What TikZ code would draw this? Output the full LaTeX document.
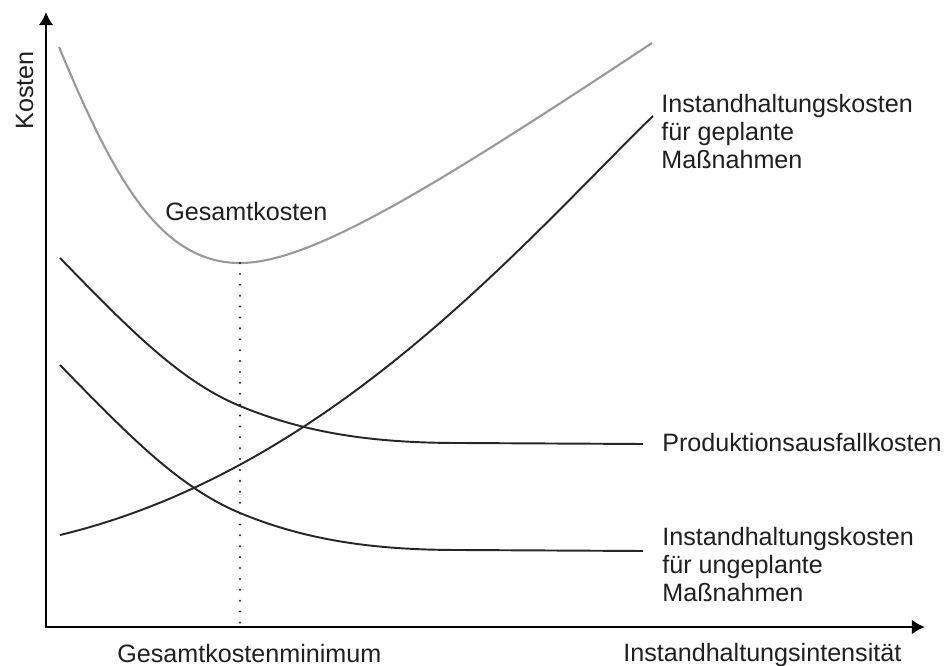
\documentclass[tikz,border=0pt]{standalone}
\usepackage{fontspec}
\setmainfont{Liberation Sans}
\usetikzlibrary{arrows.meta}
\begin{document}
\begin{tikzpicture}[x=0.02cm, y=-0.02cm,
		achse/.style={line width=1.5pt, {Latex[length=7.5pt,width=8.5pt]}-{Latex[length=7.5pt,width=8.5pt]}},
		kurve/.style={line width=1.1pt, black!85},
		gesamtkurve/.style={line width=1.2pt, black!40},
		lot/.style={line width=1.3pt, black!85, line cap=round, dash pattern=on 0pt off 6.2pt},
		beschriftung/.style={inner sep=0pt, anchor=north west, align=left, font=\fontsize{14.3}{16}\selectfont, text=black!88}]
	\useasboundingbox (0,0) rectangle (948,666);
	% Achsen
	\draw[achse] (46,12) -- (46,627) -- (925,627);
	\node[beschriftung, rotate=90, anchor=base west] (kosten) at (33,130) {Kosten};
	% Gesamtkosten
	\draw[gesamtkurve] (59,47) .. controls (114,179) and (160,263) .. (240,263) .. controls (310,263) and (430,190) .. (652,43);
	\node[beschriftung] (gesamt) at (165,202) {Gesamtkosten};
	% Produktionsausfall
	\draw[kurve] (60,258) .. controls (130,330) and (180,381) .. (240,406) .. controls (310,435) and (380,443) .. (460,443) -- (643,444);
	\node[beschriftung] (ausfall) at (662,433) {Produktionsausfallkosten};
	% ungeplante Maßnahmen
	\draw[kurve] (60,365) .. controls (130,437) and (180,488) .. (240,513) .. controls (310,542) and (380,550) .. (460,550) -- (643,551);
	\node[beschriftung] (ungeplant) at (662,527) {Instandhaltungskosten\\für ungeplante\\Maßnahmen};
	% geplante Maßnahmen
	\draw[kurve] (60,535) .. controls (330,470) and (520,246) .. (653,116);
	\node[beschriftung] (geplant) at (661,94) {Instandhaltungskosten\\für geplante\\Maßnahmen};
	% Minimum
	\coordinate (tief) at (240,263);
	\coordinate (fuss) at (240,627);
	\draw[lot] (tief) -- (fuss);
	\node[beschriftung] (minimum) at (117,644) {Gesamtkostenminimum};
	\node[beschriftung] (intensitaet) at (623,643) {Instandhaltungsintensität};
\end{tikzpicture}
\end{document}
